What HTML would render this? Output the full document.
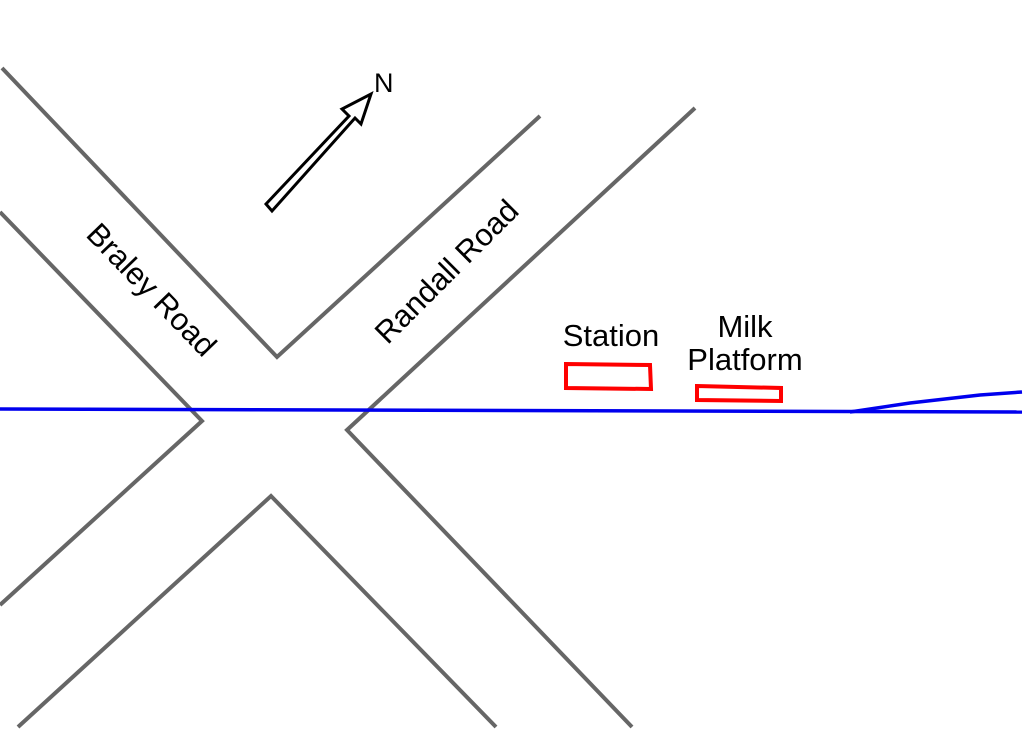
<!DOCTYPE html>
<html><head><style>body{margin:0;background:#fff}svg{display:block}</style></head><body>
<svg width="1024" height="729" viewBox="0 0 1024 729" xmlns="http://www.w3.org/2000/svg" font-family="Liberation Sans, sans-serif">
<g fill="none" stroke="#666" stroke-width="4">
<polyline points="2,68 277,357 540,116"/>
<polyline points="0,212 202,421 0,605"/>
<polyline points="695,108 347,430 632,727"/>
<polyline points="18,727 271,496 496,727"/>
</g>
<g fill="none" stroke="#0000ee" stroke-width="3.5">
<line x1="0" y1="409" x2="1022" y2="412"/>
<polyline points="850,412 910,403 980,395 1022,392"/>
</g>
<g fill="none" stroke="#f00" stroke-width="4">
<polygon points="566,364 650,365 651,389 566,388"/>
<polygon points="697,386 781,388 781,401 697,400"/>
</g>
<polygon points="266,204 349,116 342,109 371,94 361,124 355,118 272,211" fill="#fff" stroke="#000" stroke-width="3" stroke-linejoin="miter"/>
<text x="374" y="92" font-size="27">N</text>
<text transform="translate(144,297) rotate(46)" text-anchor="middle" font-size="31">Braley Road</text>
<text transform="translate(454,279) rotate(-45)" text-anchor="middle" font-size="31">Randall Road</text>
<text x="611" y="346" text-anchor="middle" font-size="31">Station</text>
<text x="745" y="337" text-anchor="middle" font-size="31">Milk</text>
<text x="745" y="370" text-anchor="middle" font-size="31">Platform</text>
</svg>
</body></html>
